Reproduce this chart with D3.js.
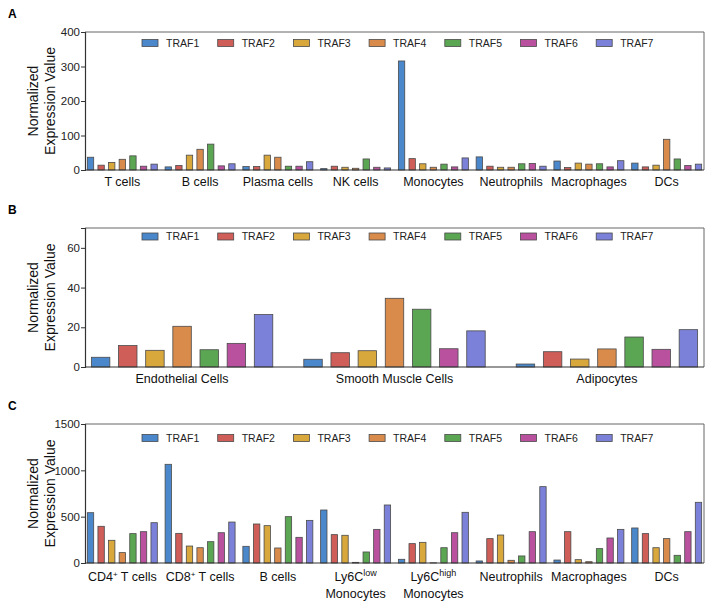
<!DOCTYPE html>
<html><head><meta charset="utf-8">
<script src="https://cdn.jsdelivr.net/npm/d3@7"></script>
<style>body{margin:0;background:#fff}svg{display:block;font-family:"Liberation Sans",Arial,sans-serif}</style>
</head><body>
<svg id="c" width="708" height="605"></svg>
<script>
const series = ["TRAF1","TRAF2","TRAF3","TRAF4","TRAF5","TRAF6","TRAF7"];
const colors = ["#4a87cb","#cf5d58","#d9a83d","#d98b4c","#5ba653","#b9519e","#7b80d8"];

const catsA = ["T cells","B cells","Plasma cells","NK cells","Monocytes","Neutrophils","Macrophages","DCs"];
const valsA = [
  [37,14,22,31,41,11,17],
  [9,13,43,60,75,12,18],
  [10,10,43,37,11,11,24],
  [4,11,8,5,32,8,6],
  [316,33,18,8,17,9,35],
  [38,11,8,8,18,19,11],
  [26,7,20,17,18,9,27],
  [20,9,14,89,32,13,17]
];
const ticksA = [0,100,200,300,400];

const catsB = ["Endothelial Cells","Smooth Muscle Cells","Adipocytes"];
const valsB = [
  [4.9,10.8,8.4,20.5,8.7,11.9,26.4],
  [3.9,7.2,8.2,34.6,29.1,9.2,18.2],
  [1.5,7.7,4.0,9.1,15.1,8.9,18.8]
];
const ticksB = [0,20,40,60];

const catsC = ["CD4+ T cells","CD8+ T cells","B cells","Ly6Clow Monocytes","Ly6Chigh Monocytes","Neutrophils","Macrophages","DCs"];
const valsC = [
  [543,396,245,112,317,338,435],
  [1065,320,183,165,230,327,442],
  [180,421,403,162,500,277,460],
  [572,306,299,7,119,363,626],
  [40,209,223,2,165,327,547],
  [22,263,302,29,76,338,824],
  [32,338,36,14,155,270,363],
  [378,317,165,263,83,338,655]
];
const ticksC = [0,500,1000,1500];

const svg = d3.select("#c");
const L = 85, R = 704;

function panel(o){
  const g = svg.append("g");
  const y = d3.scaleLinear().domain([0,o.max]).range([o.bottom,o.top]);
  const x0 = d3.scaleBand().domain(o.cats).range([L,R]).paddingInner(o.pin).paddingOuter(o.pout);
  const x1 = d3.scaleBand().domain(series).range([0,x0.bandwidth()]).paddingInner(o.sub).paddingOuter(0);
  // frame
  g.append("path").attr("d",`M${L},${o.top}H${R}V${o.bottom}`).attr("fill","none").attr("stroke","#666").attr("stroke-width",1);
  // bars
  o.cats.forEach((c,i)=>{
    g.selectAll(null).data(o.vals[i]).enter().append("rect")
      .attr("x",(d,j)=>x0(c)+x1(series[j]))
      .attr("y",d=>y(d))
      .attr("width",x1.bandwidth())
      .attr("height",d=>o.bottom-y(d))
      .attr("fill",(d,j)=>colors[j])
      .attr("stroke","#4a4a4a").attr("stroke-width",0.8);
  });
  // y axis
  const ya = g.append("g").attr("transform",`translate(${L},0)`)
    .call(d3.axisLeft(y).tickValues(o.ticks).tickSize(4).tickPadding(1).tickFormat(d3.format("d")));
  ya.select(".domain").attr("stroke","#333").attr("stroke-width",1.2);
  ya.selectAll(".tick line").attr("stroke","#333");
  ya.selectAll("text").attr("font-size","11.5px").attr("fill","#222").attr("font-family","Liberation Sans, Arial, sans-serif");
  // bottom axis line
  g.append("line").attr("x1",L).attr("x2",R).attr("y1",o.bottom).attr("y2",o.bottom).attr("stroke","#333").attr("stroke-width",1.2);
  // x labels
  o.cats.forEach(c=>{
    const cx = x0(c)+x0.bandwidth()/2;
    const t = g.append("text").attr("x",cx).attr("y",o.bottom+o.lab).attr("text-anchor","middle")
      .attr("font-size","12.5px").attr("fill","#111");
    let m;
    if((m = c.match(/^(CD[48])\+ (T cells)$/))){
      t.append("tspan").text(m[1]);
      t.append("tspan").attr("baseline-shift","super").attr("font-size","8px").text("+");
      t.append("tspan").text(" "+m[2]);
    } else if((m = c.match(/^(Ly6C)(low|high) (Monocytes)$/))){
      t.append("tspan").text(m[1]);
      t.append("tspan").attr("baseline-shift","super").attr("font-size","9px").text(m[2]);
      g.append("text").attr("x",cx).attr("y",o.bottom+o.lab+17).attr("text-anchor","middle")
        .attr("font-size","12.5px").attr("fill","#111").text(m[3]);
    } else t.text(c);
  });
  // y title
  const cy = (o.top+o.bottom)/2;
  ["Normalized","Expression Value"].forEach((s,i)=>{
    g.append("text").attr("transform",`translate(${38+i*17},${cy}) rotate(-90)`)
      .attr("text-anchor","middle").attr("font-size","14px").attr("fill","#111").text(s);
  });
  // legend
  const lg = g.append("g");
  series.forEach((s,i)=>{
    const lx = 142 + i*75.7;
    lg.append("rect").attr("x",lx).attr("y",o.leg-3.5).attr("width",16).attr("height",7)
      .attr("fill",colors[i]).attr("stroke","#4a4a4a").attr("stroke-width",0.8);
    lg.append("text").attr("x",lx+24).attr("y",o.leg+3.8).attr("font-size","10.5px").attr("fill","#222").text(s);
  });
  // panel letter
  g.append("text").attr("x",8).attr("y",o.top-14).attr("font-size","12px").attr("font-weight","bold").text(o.letter);
}

panel({letter:"A",cats:catsA,vals:valsA,ticks:ticksA,max:400,top:32,bottom:170,pin:0.1,pout:0.03,sub:0.4,lab:16,leg:43});
panel({letter:"B",cats:catsB,vals:valsB,ticks:ticksB,max:70,top:228,bottom:367,pin:0.146,pout:0.03,sub:0.32,lab:16,leg:236.5});
panel({letter:"C",cats:catsC,vals:valsC,ticks:ticksC,max:1500,top:424,bottom:563,pin:0.1,pout:0.03,sub:0.4,lab:18,leg:438});
</script>
</body></html>
